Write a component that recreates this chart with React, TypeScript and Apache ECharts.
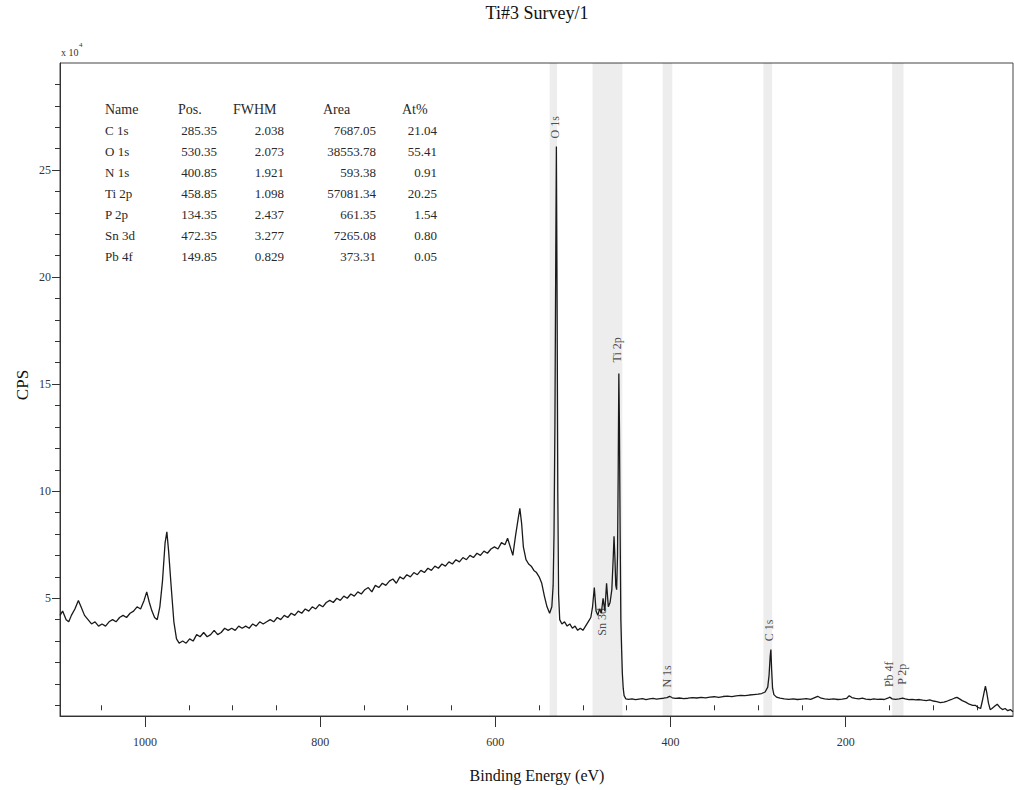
import React, { useEffect, useRef } from "react";
import * as echarts from "echarts";

// Spectrum (binding energy in eV, intensity in CPS x 10^4)
const bindingEnergy: number[] = [
  1097, 1094, 1090, 1087, 1084, 1080, 1076, 1073, 1069, 1065, 1061, 1057, 1053, 1049, 1045, 1041, 1037, 1033, 1029, 1025,
  1021, 1017, 1013, 1009, 1005, 1001, 998, 995, 992, 989, 986, 983, 980, 977, 975, 973, 970, 967, 964, 961,
  957, 953, 949, 945, 941, 937, 933, 929, 925, 921, 917, 913, 909, 905, 901, 897, 893, 889, 885, 881,
  877, 873, 869, 865, 861, 857, 853, 849, 845, 841, 837, 833, 829, 825, 821, 817, 813, 809, 805, 801,
  797, 793, 789, 785, 781, 777, 773, 769, 765, 761, 757, 753, 749, 745, 741, 737, 733, 729, 725, 721,
  717, 713, 709, 705, 701, 697, 693, 689, 685, 681, 677, 673, 669, 665, 661, 657, 653, 649, 645, 641,
  637, 633, 629, 625, 621, 617, 613, 609, 605, 601, 597, 593, 589, 586, 583, 580, 577, 574, 572, 570,
  568, 565, 562, 559, 556, 553, 550, 547, 544, 541, 538, 535.5, 534, 533, 532, 531, 530.3, 529.5, 528.7, 527.8,
  526.5, 524, 521, 518, 515, 512, 509, 506, 503, 500, 497, 494, 491, 489, 487, 485, 483, 481, 479, 477,
  475, 473, 471, 469, 467, 465.5, 464.5, 463.5, 462.5, 461.5, 460.5, 459.7, 459, 458.3, 457.5, 456.7, 455.8, 455, 454, 453,
  451, 448, 444, 440, 436, 432, 428, 424, 420, 416, 412, 408, 404, 401, 398, 394, 390, 385, 380, 375,
  370, 365, 360, 355, 350, 345, 340, 335, 330, 325, 320, 315, 310, 305, 300, 296, 292, 289, 287.5, 286.2,
  285.4, 284.6, 283.5, 282, 279, 275, 270, 265, 260, 255, 250, 245, 240, 236, 232, 228, 224, 219, 214, 209,
  204, 199, 196, 193, 189, 185, 181, 177, 172, 168, 164, 160, 156, 152, 149.5, 147, 143, 139, 135, 132,
  128, 124, 120, 116, 112, 108, 104, 100, 96, 92, 88, 84, 80, 76, 73, 70, 67, 63, 59, 55,
  52, 49, 46, 44, 42, 40.5, 39, 37, 35, 33, 30, 27, 24, 21, 18, 15, 12, 9,
];

const cps: number[] = [
  4.2, 4.4, 4.0, 3.9, 4.2, 4.5, 4.9, 4.6, 4.2, 4.0, 3.8, 3.9, 3.7, 3.8, 3.7, 3.9, 4.0, 3.9, 4.1, 4.2,
  4.1, 4.3, 4.4, 4.6, 4.5, 4.9, 5.3, 4.8, 4.4, 4.1, 4.0, 4.6, 5.8, 7.6, 8.1, 7.2, 5.5, 3.9, 3.1, 2.9,
  3.0, 2.9, 3.1, 3.0, 3.3, 3.2, 3.4, 3.2, 3.3, 3.5, 3.3, 3.4, 3.6, 3.5, 3.6, 3.5, 3.7, 3.6, 3.7, 3.6,
  3.8, 3.7, 3.9, 3.8, 3.9, 4.0, 3.9, 4.1, 4.0, 4.2, 4.1, 4.3, 4.2, 4.4, 4.3, 4.5, 4.4, 4.6, 4.5, 4.7,
  4.6, 4.8, 4.9, 4.8, 5.0, 4.9, 5.1, 5.0, 5.2, 5.1, 5.3, 5.2, 5.4, 5.5, 5.3, 5.6, 5.5, 5.7, 5.6, 5.8,
  5.9, 5.7, 6.0, 5.9, 6.1, 6.0, 6.2, 6.1, 6.3, 6.2, 6.4, 6.3, 6.5, 6.4, 6.6, 6.5, 6.7, 6.6, 6.8, 6.7,
  6.9, 6.8, 7.0, 6.9, 7.1, 7.0, 7.2, 7.1, 7.3, 7.4, 7.3, 7.6, 7.5, 7.8, 7.4, 7.0, 7.9, 8.7, 9.2, 8.5,
  7.4, 6.8, 6.6, 6.5, 6.3, 6.2, 6.0, 5.7, 5.1, 4.6, 4.3, 4.6, 5.6, 8.0, 13.0, 21.0, 26.1, 19.0, 10.0, 5.2,
  4.0, 3.8, 3.9, 3.7, 3.8, 3.6, 3.7, 3.5, 3.6, 3.5, 3.7, 3.9, 4.1, 4.6, 5.5, 4.4, 4.2, 4.5, 4.3, 5.0,
  4.4, 5.7, 4.6, 4.8, 5.4, 6.8, 7.9, 6.9, 5.6, 5.4, 7.0, 11.0, 15.5, 13.0, 8.0, 4.0, 2.6, 1.5, 0.8, 0.45,
  0.3, 0.28, 0.3, 0.26, 0.29, 0.31, 0.27, 0.3, 0.32, 0.29, 0.31, 0.33, 0.36, 0.42, 0.35, 0.32, 0.34, 0.31, 0.33, 0.36,
  0.34, 0.37, 0.35, 0.38, 0.4, 0.37, 0.41, 0.43, 0.4, 0.44, 0.46, 0.45, 0.48, 0.5, 0.52, 0.55, 0.62, 0.85, 1.4, 2.3,
  2.6, 1.7, 0.8, 0.5, 0.38, 0.33, 0.3, 0.28, 0.3, 0.27, 0.29, 0.31, 0.28, 0.35, 0.42, 0.33, 0.3, 0.28, 0.3, 0.27,
  0.29, 0.32, 0.45, 0.36, 0.32, 0.3, 0.33, 0.29, 0.27, 0.3, 0.28, 0.29, 0.27, 0.33, 0.38, 0.3, 0.28, 0.3, 0.34, 0.3,
  0.26, 0.28, 0.25, 0.27, 0.24, 0.22, 0.25, 0.2, 0.17, 0.12, 0.15, 0.2, 0.26, 0.33, 0.37, 0.3, 0.22, 0.15, 0.05, 0.0,
  0.0, -0.1, -0.15, 0.2, 0.6, 0.9, 0.6, 0.1, -0.2, -0.15, -0.05, 0.05, -0.1, -0.2, -0.15, -0.25, -0.2, -0.3,
];

// Peak annotations (rotated labels) and shaded fit regions
const peakLabels: string[] = ["O 1s", "Ti 2p", "Sn 3d", "N 1s", "C 1s", "Pb 4f", "P 2p"];
const peakLabelEnergy: number[] = [531.5, 461, 478, 404, 288, 151, 136];
const peakLabelLevel: number[] = [27.0, 16.6, 3.9, 1.35, 3.5, 1.45, 1.45];
const bandStart: number[] = [529.5, 455, 398, 284, 134];
const bandEnd: number[] = [538, 489, 409, 294, 147];

// Quantification table
const tableHeaders: string[] = ["Name", "Pos.", "FWHM", "Area", "At%"];
const tableNames: string[] = ["C 1s", "O 1s", "N 1s", "Ti 2p", "P 2p", "Sn 3d", "Pb 4f"];
const tablePos: string[] = ["285.35", "530.35", "400.85", "458.85", "134.35", "472.35", "149.85"];
const tableFWHM: string[] = ["2.038", "2.073", "1.921", "1.098", "2.437", "3.277", "0.829"];
const tableArea: string[] = ["7687.05", "38553.78", "593.38", "57081.34", "661.35", "7265.08", "373.31"];
const tableAt: string[] = ["21.04", "55.41", "0.91", "20.25", "1.54", "0.80", "0.05"];

// Axis ticks
const xMajorTicks: number[] = [1000, 800, 600, 400, 200];
const xMinorTicks: number[] = [1050, 950, 900, 850, 750, 700, 650, 550, 500, 450, 350, 300, 250, 150, 100, 50];
const yMajorTicks: number[] = [5, 10, 15, 20, 25];
const yMinorTicks: number[] = [0, 1, 2, 3, 4, 6, 7, 8, 9, 11, 12, 13, 14, 16, 17, 18, 19, 21, 22, 23, 24, 26, 27, 28, 29];

const X_MIN = 9;
const X_MAX = 1097;
const Y_MIN = -0.5;
const Y_MAX = 30;

const SERIF = "'Liberation Serif', 'Times New Roman', serif";

export default function App() {
  const ref = useRef<HTMLDivElement>(null);

  useEffect(() => {
    if (!ref.current) return;
    const chart = echarts.init(ref.current, undefined, { renderer: "svg" });

    const lineData = bindingEnergy.map((e, i) => [e, cps[i]]);
    const labelData = peakLabels.map((n, i) => ({ name: n, value: [peakLabelEnergy[i], peakLabelLevel[i]] }));
    const bands = bandStart.map((s, i) => [{ xAxis: s }, { xAxis: bandEnd[i] }]);

    const textStyle = { fontFamily: SERIF, fill: "#2a2a2a", fontSize: 13 };
    const graphics: any[] = [];
    const colX = [105, 217, 284, 376, 437];
    const headerX = [105, 178, 233, 323, 402];
    const rowY0 = 109;
    const rowStep = 21;
    tableHeaders.forEach((h, c) => {
      graphics.push({
        type: "text",
        x: headerX[c],
        y: rowY0,
        style: { ...textStyle, fontSize: 14, text: h, textAlign: "left", textVerticalAlign: "middle" },
      });
    });
    const cols = [tableNames, tablePos, tableFWHM, tableArea, tableAt];
    tableNames.forEach((_, r) => {
      cols.forEach((col, c) => {
        graphics.push({
          type: "text",
          x: colX[c],
          y: rowY0 + rowStep * (r + 1),
          style: {
            ...textStyle,
            text: col[r],
            textAlign: c === 0 ? "left" : "right",
            textVerticalAlign: "middle",
          },
        });
      });
    });
    graphics.push(
      {
        type: "text",
        x: 537,
        y: 13,
        style: { text: "Ti#3 Survey/1", fontFamily: SERIF, fontSize: 18, fill: "#111", textAlign: "center", textVerticalAlign: "middle" },
      },
      {
        type: "text",
        x: 537,
        y: 775,
        style: { text: "Binding Energy (eV)", fontFamily: SERIF, fontSize: 16, fill: "#111", textAlign: "center", textVerticalAlign: "middle" },
      },
      {
        type: "text",
        x: 22,
        y: 385,
        rotation: Math.PI / 2,
        style: { text: "CPS", fontFamily: SERIF, fontSize: 17, fill: "#111", textAlign: "center", textVerticalAlign: "middle" },
      },
      {
        type: "text",
        x: 61,
        y: 52,
        style: { text: "x 10", fontFamily: SERIF, fontSize: 10, fill: "#333", textAlign: "left", textVerticalAlign: "middle" },
      },
      {
        type: "text",
        x: 79,
        y: 45,
        style: { text: "4", fontFamily: SERIF, fontSize: 7, fill: "#333", textAlign: "left", textVerticalAlign: "middle" },
      }
    );

    const option: any = {
      animation: false,
      backgroundColor: "#fff",
      grid: {
        left: 60,
        right: 1,
        top: 63,
        bottom: 74,
        show: true,
        borderColor: "#444",
        borderWidth: 1,
        backgroundColor: "transparent",
      },
      xAxis: [
        {
          type: "value",
          inverse: true,
          min: X_MIN,
          max: X_MAX,
          position: "bottom",
          axisLine: { show: true, onZero: false, lineStyle: { color: "#333", width: 1 } },
          axisTick: { show: true, inside: false, length: 11, customValues: xMajorTicks, lineStyle: { color: "#333" } },
          axisLabel: {
            show: true,
            customValues: xMajorTicks,
            formatter: (v: number) => String(v),
            margin: 20,
            fontFamily: SERIF,
            fontSize: 12,
            color: "#333",
          },
          splitLine: { show: false },
        },
        {
          type: "value",
          inverse: true,
          min: X_MIN,
          max: X_MAX,
          position: "bottom",
          axisLine: { show: false },
          axisTick: { show: true, inside: false, length: 5, customValues: xMinorTicks, lineStyle: { color: "#333" } },
          axisLabel: { show: false },
          splitLine: { show: false },
        },
      ],
      yAxis: [
        {
          type: "value",
          min: Y_MIN,
          max: Y_MAX,
          position: "left",
          axisLine: { show: true, onZero: false, lineStyle: { color: "#333", width: 1 } },
          axisTick: { show: true, inside: false, length: 8, customValues: yMajorTicks, lineStyle: { color: "#333" } },
          axisLabel: {
            show: true,
            customValues: yMajorTicks,
            formatter: (v: number) => String(v),
            margin: 9,
            fontFamily: SERIF,
            fontSize: 12,
            color: "#333",
          },
          splitLine: { show: false },
        },
        {
          type: "value",
          min: Y_MIN,
          max: Y_MAX,
          position: "left",
          axisLine: { show: false },
          axisTick: { show: true, inside: false, length: 5, customValues: yMinorTicks, lineStyle: { color: "#333" } },
          axisLabel: { show: false },
          splitLine: { show: false },
        },
      ],
      series: [
        {
          type: "line",
          xAxisIndex: 0,
          yAxisIndex: 0,
          data: lineData,
          showSymbol: false,
          symbol: "none",
          lineStyle: { color: "#1a1a1a", width: 1.3 },
          markArea: {
            silent: true,
            itemStyle: { color: "rgba(0,0,0,0.07)" },
            data: bands,
          },
          z: 3,
        },
        {
          type: "scatter",
          xAxisIndex: 0,
          yAxisIndex: 0,
          data: labelData,
          symbolSize: 0,
          silent: true,
          label: {
            show: true,
            position: "inside",
            rotate: 90,
            formatter: "{b}",
            fontFamily: SERIF,
            fontSize: 12,
            color: "#222",
          },
          z: 4,
        },
      ],
      graphic: graphics,
    };

    chart.setOption(option);
    return () => {
      chart.dispose();
    };
  }, []);

  return (
    <div
      ref={ref}
      style={{ position: "fixed", left: 0, top: 0, width: 1014, height: 790, background: "#fff" }}
    />
  );
}
